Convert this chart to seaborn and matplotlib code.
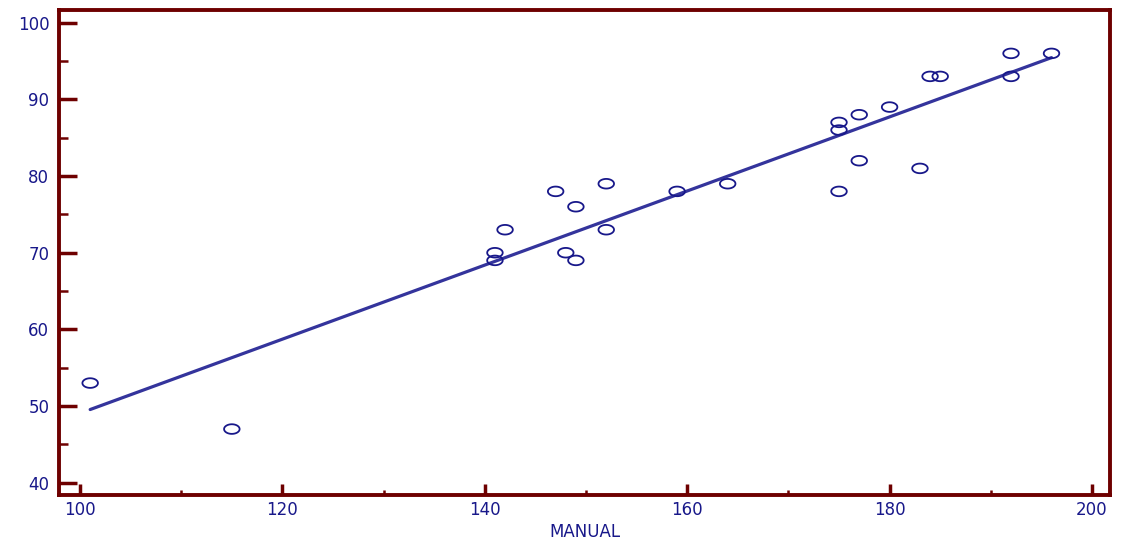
import numpy as np
import pandas as pd
import matplotlib
matplotlib.use("Agg")
import matplotlib.pyplot as plt
from matplotlib.path import Path
from matplotlib.ticker import MultipleLocator
import seaborn as sns

manual = [101, 115, 141, 141, 142, 147, 148, 149, 149, 152, 152, 159, 164,
          175, 175, 175, 177, 177, 180, 183, 184, 185, 192, 192, 196]
auto = [53, 47, 70, 69, 73, 78, 70, 76, 69, 79, 73, 78, 79,
        87, 86, 78, 88, 82, 89, 81, 93, 93, 96, 93, 96]
x_ticks = [100, 120, 140, 160, 180, 200]
y_ticks = [40, 50, 60, 70, 80, 90, 100]

df = pd.DataFrame({"MANUAL": manual, "AUTO": auto})

sns.set_style("white")
plt.rcParams["font.family"] = ["DejaVu Sans"]

spine_col = "#6e0000"
text_col = "#18188a"
line_col = "#34349c"

fig = plt.figure(figsize=(11.25, 5.42), dpi=100)
ax = fig.add_axes([59 / 1125, 47 / 542, (1110 - 59) / 1125, (495 - 10) / 542])

theta = np.linspace(0, 2 * np.pi, 60)
ellipse = Path(np.column_stack([np.cos(theta), 0.62 * np.sin(theta)]), closed=True)

sns.regplot(data=df, x="MANUAL", y="AUTO", ax=ax, ci=None, marker=ellipse,
            scatter_kws=dict(s=125, facecolors="none",
                             edgecolors=text_col, linewidths=1.3, alpha=1, zorder=3),
            line_kws=dict(color=line_col, linewidth=2.3, zorder=2))

ax.set_xlim(97.92, 201.78)
ax.set_ylim(38.4, 101.66)
ax.set_xticks(x_ticks)
ax.set_yticks(y_ticks)
ax.xaxis.set_minor_locator(MultipleLocator(10))
ax.yaxis.set_minor_locator(MultipleLocator(5))

for s in ax.spines.values():
    s.set_color(spine_col)
    s.set_linewidth(2.8)
    s.set_visible(True)

ax.tick_params(axis="x", which="major", direction="in", length=8, width=2.5,
               color=spine_col, labelcolor=text_col, labelsize=12, pad=4,
               bottom=True, top=False)
ax.tick_params(axis="x", which="minor", direction="in", length=3.6, width=1.8,
               color=spine_col, bottom=True, top=False)
ax.tick_params(axis="y", which="major", direction="in", length=13, width=2.5,
               color=spine_col, labelcolor=text_col, labelsize=12, pad=7,
               left=True, right=False)
ax.tick_params(axis="y", which="minor", direction="in", length=6.5, width=1.8,
               color=spine_col, left=True, right=False)

ax.set_xlabel("MANUAL", color=text_col, fontsize=12, labelpad=3)
ax.set_ylabel("")
ax.grid(False)

fig.savefig("out.png", dpi=100, facecolor="white")
